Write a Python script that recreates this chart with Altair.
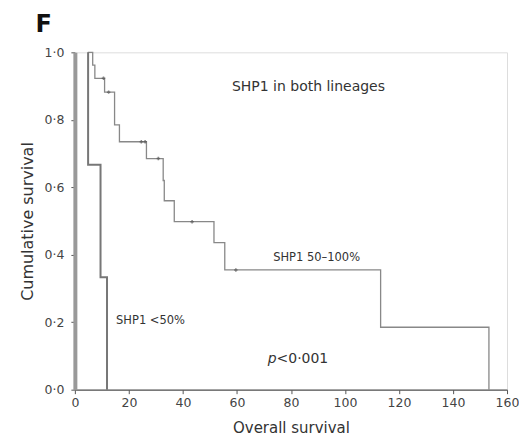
import altair as alt
import pandas as pd

# SHP1 50-100% Kaplan-Meier steps
hi_time = [4.8, 6.6, 7.4, 11.0, 14.7, 16.5, 26.5, 32.7, 33.1, 36.8, 51.5, 55.5, 113.2, 153.3]
hi_surv = [1.0, 0.962, 0.923, 0.882, 0.785, 0.735, 0.685, 0.62, 0.56, 0.498, 0.436, 0.355, 0.185, 0.0]
# censor marks on the SHP1 50-100% curve
cen_time = [10.6, 12.5, 24.6, 26.0, 30.9, 43.4, 59.6]
cen_surv = [0.923, 0.882, 0.735, 0.735, 0.685, 0.498, 0.355]
# SHP1 <50% steps
lo_time = [4.9, 4.9, 9.5, 11.9]
lo_surv = [1.0, 0.667, 0.333, 0.0]

x_ticks = [0, 20, 40, 60, 80, 100, 120, 140, 160]
y_ticks = [0.0, 0.2, 0.4, 0.6, 0.8, 1.0]

hi = pd.DataFrame({"t": hi_time, "s": hi_surv})
lo = pd.DataFrame({"t": lo_time, "s": lo_surv})
cen = pd.DataFrame({"t": cen_time, "s": cen_surv})

FONT = "DejaVu Sans"
xs = alt.Scale(domain=[0, 160], nice=False, zero=True)
ys = alt.Scale(domain=[0, 1], nice=False)

X = alt.X("t:Q", scale=xs, axis=alt.Axis(
    values=x_ticks, title="Overall survival", grid=False, labelFlush=False,
    domainColor="#555", domainWidth=1.2, tickColor="#555", tickSize=4,
    labelFont=FONT, labelFontSize=12.5, labelColor="#444", labelPadding=3,
    titleFont=FONT, titleFontSize=15, titleFontWeight="normal", titleColor="#333",
    titlePadding=11))
Y = alt.Y("s:Q", scale=ys, axis=alt.Axis(
    values=y_ticks, title="Cumulative survival", grid=False,
    domainColor="#999", domainWidth=4, tickColor="#555", tickSize=4,
    labelExpr="replace(format(datum.value, '.1f'), '.', '·')",
    labelFont=FONT, labelFontSize=12.5, labelColor="#444", labelPadding=7,
    titleFont=FONT, titleFontSize=16, titleFontWeight="normal", titleColor="#333",
    titlePadding=9))

hi_line = alt.Chart(hi).mark_line(interpolate="step-after", color="#888", strokeWidth=1.3).encode(x=X, y=Y)
lo_line = alt.Chart(lo).mark_line(interpolate="step-after", color="#777", strokeWidth=2).encode(x="t:Q", y="s:Q")
cens = alt.Chart(cen).mark_point(shape="M-1,0L1,0M0,-1L0,1", size=12, filled=False,
                                 color="#555", strokeWidth=1.5).encode(x="t:Q", y="s:Q")

ann = pd.DataFrame({
    "t": [86.5, 89.5, 28.0],
    "s": [0.897, 0.39, 0.205],
    "label": ["SHP1 in both lineages", "SHP1 50–100%", "SHP1 <50%"],
    "fs": [14, 11.5, 11.5],
})
ann_txt = alt.Chart(ann).mark_text(font=FONT, color="#333").encode(
    x="t:Q", y="s:Q", text="label:N", size=alt.Size("fs:Q", scale=None, legend=None))

pval = pd.DataFrame({"t": [78.0], "s": [0.09], "a": ["p"], "b": ["<0·001"]})
p_txt = alt.Chart(pval).mark_text(font=FONT, fontSize=14, fontStyle="italic", color="#333",
                                  align="right", dx=-9).encode(x="t:Q", y="s:Q", text="a:N")
p_txt2 = alt.Chart(pval).mark_text(font=FONT, fontSize=14, color="#333",
                                   align="left", dx=-9).encode(x="t:Q", y="s:Q", text="b:N")

panel = pd.DataFrame({"lab": ["F"]})
f_txt = alt.Chart(panel).mark_text(font=FONT, fontSize=24, fontWeight="bold", color="#111",
                                   align="right", baseline="alphabetic").encode(
    x=alt.value(-23), y=alt.value(-20), text="lab:N")

chart = alt.layer(hi_line, lo_line, cens, ann_txt, p_txt, p_txt2, f_txt).properties(
    width=433, height=338,
    autosize=alt.AutoSizeParams(type="none"),
    padding={"left": 67, "top": 44, "right": 12, "bottom": 47},
).configure_view(stroke=None).configure(background="white")

chart.save("out.html", embed_options={"renderer": "svg", "actions": False})
